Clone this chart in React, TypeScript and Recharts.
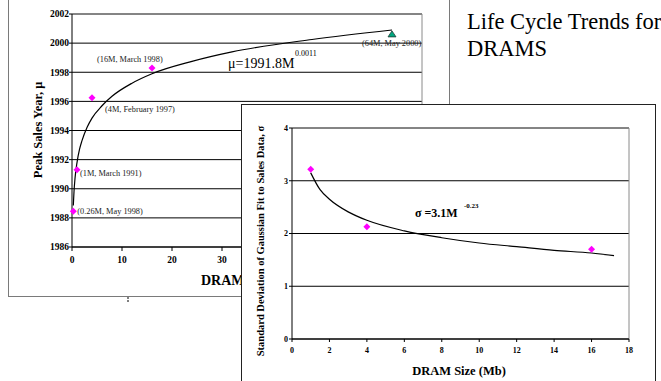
import React from "react";
import { ComposedChart, Line, Scatter, XAxis, YAxis, CartesianGrid, ReferenceLine } from "recharts";

// back chart: peak sales year vs DRAM size
const backSizes = [0.26, 1, 4, 16];
const backYears = [1988.45, 1991.3, 1996.25, 1998.3];
const backLabels = ["(0.26M, May 1998)", "(1M, March 1991)", "(4M, February 1997)", "(16M, March 1998)"];
const newSizes = [64];
const newYears = [2000.6];
const newLabels = ["(64M, May 2000)"];
const backTrendSizes = [0.26, 0.4, 0.6, 1, 1.5, 2, 3, 4, 6, 8, 12, 16, 24, 32, 48, 64];
const backTrendYears = [1988.85, 1989.8, 1990.7, 1991.8, 1992.7, 1993.3, 1994.2, 1994.85, 1995.7, 1996.35, 1997.25, 1997.9, 1998.75, 1999.4, 2000.25, 2000.9];
const backYTicks = [1986, 1988, 1990, 1992, 1994, 1996, 1998, 2000, 2002];
const backXTicks = [0, 10, 20, 30, 40, 50, 60, 70];

// front chart: std deviation of gaussian fit vs DRAM size
const frontSizes = [1, 4, 16];
const frontSigma = [3.22, 2.13, 1.7];
const frontTrendSizes = [1, 1.5, 2, 3, 4, 6, 8, 10, 12, 14, 16, 17.2];
const frontTrendSigma = [3.15, 2.83, 2.65, 2.41, 2.25, 2.05, 1.92, 1.82, 1.75, 1.68, 1.63, 1.58];
const frontYTicks = [0, 1, 2, 3, 4];
const frontXTicks = [0, 2, 4, 6, 8, 10, 12, 14, 16, 18];

const serif = "'Liberation Serif', 'Times New Roman', serif";
const tickStyle = (size: number) => ({ fontFamily: serif, fontWeight: "bold", fontSize: size, fill: "#000" });

const backPoints = backSizes.map((x, i) => ({ x, y: backYears[i], label: backLabels[i], i }));
const newPoints = newSizes.map((x, i) => ({ x, y: newYears[i], label: newLabels[i], i }));
const backTrend = backTrendSizes.map((x, i) => ({ x, y: backTrendYears[i] }));
const frontPoints = frontSizes.map((x, i) => ({ x, y: frontSigma[i] }));
const frontTrend = frontTrendSizes.map((x, i) => ({ x, y: frontTrendSigma[i] }));

// where each point's note sits relative to the marker
const backLabelOffsets = [
    { dx: 4, dy: 3 },
    { dx: 3, dy: 6 },
    { dx: 13, dy: 14 },
    { dx: -55, dy: -6 },
];
const newLabelOffsets = [{ dx: -30, dy: 12 }];

function Diamond(props: any) {
    const { cx, cy } = props;
    const r = 3.5;
    return <polygon points={`${cx},${cy - r} ${cx + r},${cy} ${cx},${cy + r} ${cx - r},${cy}`} fill="#ff00ff" />;
}

function LabeledDiamond(props: any) {
    const { cx, cy, payload } = props;
    const off = backLabelOffsets[payload.i];
    return (
        <g>
            <Diamond cx={cx} cy={cy} />
            <text x={cx + off.dx} y={cy + off.dy} fontFamily={serif} fontSize={8.3} fill="#222">{payload.label}</text>
        </g>
    );
}

function LabeledTriangle(props: any) {
    const { cx, cy, payload } = props;
    const off = newLabelOffsets[payload.i];
    return (
        <g>
            <polygon points={`${cx},${cy - 3.5} ${cx + 4},${cy + 2.5} ${cx - 4},${cy + 2.5}`} fill="#00a67e" stroke="#1d3b33" strokeWidth={0.8} />
            <text x={cx + off.dx} y={cy + off.dy} fontFamily={serif} fontSize={8.3} fill="#222">{payload.label}</text>
        </g>
    );
}

export default function App() {
    return (
        <div style={{ position: "absolute", left: 0, top: 0, width: 661, height: 381, overflow: "hidden", background: "#fff", fontFamily: serif }}>
            {/* back chart frame */}
            <div style={{ position: "absolute", left: 8, top: -5, width: 442, height: 302, boxSizing: "border-box", border: "1.5px solid #7a7a7a" }} />
            <div style={{ position: "absolute", left: 0, top: 0 }}>
                <ComposedChart width={661} height={381} margin={{ top: 14, right: 239, bottom: 104, left: 12 }}>
                    <CartesianGrid vertical={false} stroke="#000" strokeWidth={1} />
                    <XAxis dataKey="x" type="number" domain={[0, 70]} ticks={backXTicks} stroke="#000" tickSize={4} tickMargin={5} tick={tickStyle(9.5)} height={30} />
                    <YAxis dataKey="y" type="number" domain={[1986, 2002]} ticks={backYTicks} stroke="#000" tickSize={3} tickMargin={0} tick={tickStyle(9.5)} width={60} />
                    <ReferenceLine y={2002} stroke="#8a8a8a" />
                    <ReferenceLine x={70} stroke="#8a8a8a" />
                    <Line data={backTrend} dataKey="y" type="monotone" stroke="#000" strokeWidth={1.2} dot={false} isAnimationActive={false} />
                    <Scatter data={backPoints} dataKey="y" shape={LabeledDiamond} isAnimationActive={false} />
                    <Scatter data={newPoints} dataKey="y" shape={LabeledTriangle} isAnimationActive={false} />
                </ComposedChart>
            </div>
            <svg width={661} height={381} style={{ position: "absolute", left: 0, top: 0 }}>
                <text transform="translate(42,130) rotate(-90)" textAnchor="middle" fontFamily={serif} fontWeight="bold" fontSize={12.5} fill="#000">Peak Sales Year, μ</text>
                <text x={228} y={68} fontFamily={serif} fontSize={14} fill="#000">μ=1991.8M</text>
                <text x={295} y={56} fontFamily={serif} fontSize={8} fill="#000">0.0011</text>
                <text x={201} y={285} fontFamily={serif} fontWeight="bold" fontSize={14} fill="#000">DRAM Size (Mb)</text>
                <line x1={128} y1={297} x2={128} y2={303} stroke="#000" strokeDasharray="2 1" />
                <text x={467} y={29} fontFamily={serif} fontSize={22.5} fill="#000">Life Cycle Trends for</text>
                <text x={467} y={56} fontFamily={serif} fontSize={22.5} fill="#000">DRAMS</text>
            </svg>

            {/* front chart */}
            <div style={{ position: "absolute", left: 241, top: 104, width: 415, height: 290, boxSizing: "border-box", border: "1px solid #222", background: "#fff" }}>
                <div style={{ position: "absolute", left: 0, top: 0 }}>
                    <ComposedChart width={413} height={276} margin={{ top: 23, right: 26, bottom: 22, left: 10 }}>
                        <CartesianGrid vertical={false} stroke="#000" strokeWidth={1} />
                        <XAxis dataKey="x" type="number" domain={[0, 18]} ticks={frontXTicks} stroke="#000" tickSize={3} tickMargin={5} tick={tickStyle(8)} height={20} />
                        <YAxis dataKey="y" type="number" domain={[0, 4]} ticks={frontYTicks} stroke="#000" tickSize={3} tickMargin={1} tick={tickStyle(8)} width={40} />
                        <ReferenceLine y={4} stroke="#8a8a8a" />
                        <ReferenceLine x={18} stroke="#8a8a8a" />
                        <Line data={frontTrend} dataKey="y" type="monotone" stroke="#000" strokeWidth={1.2} dot={false} isAnimationActive={false} />
                        <Scatter data={frontPoints} dataKey="y" shape={Diamond} isAnimationActive={false} />
                    </ComposedChart>
                </div>
                <svg width={413} height={288} style={{ position: "absolute", left: 0, top: 0 }}>
                    <text transform="translate(22,136) rotate(-90)" textAnchor="middle" fontFamily={serif} fontWeight="bold" fontSize={10.5} fill="#000">Standard Deviation of Gaussian Fit to Sales Data, σ</text>
                    <text x={217} y={270} textAnchor="middle" fontFamily={serif} fontWeight="bold" fontSize={12.5} fill="#000">DRAM Size (Mb)</text>
                    <text x={173} y={112} fontFamily={serif} fontWeight="bold" fontSize={12} fill="#000">σ =3.1M</text>
                    <text x={222} y={103} fontFamily={serif} fontWeight="bold" fontSize={7} fill="#000">-0.23</text>
                </svg>
            </div>
        </div>
    );
}
